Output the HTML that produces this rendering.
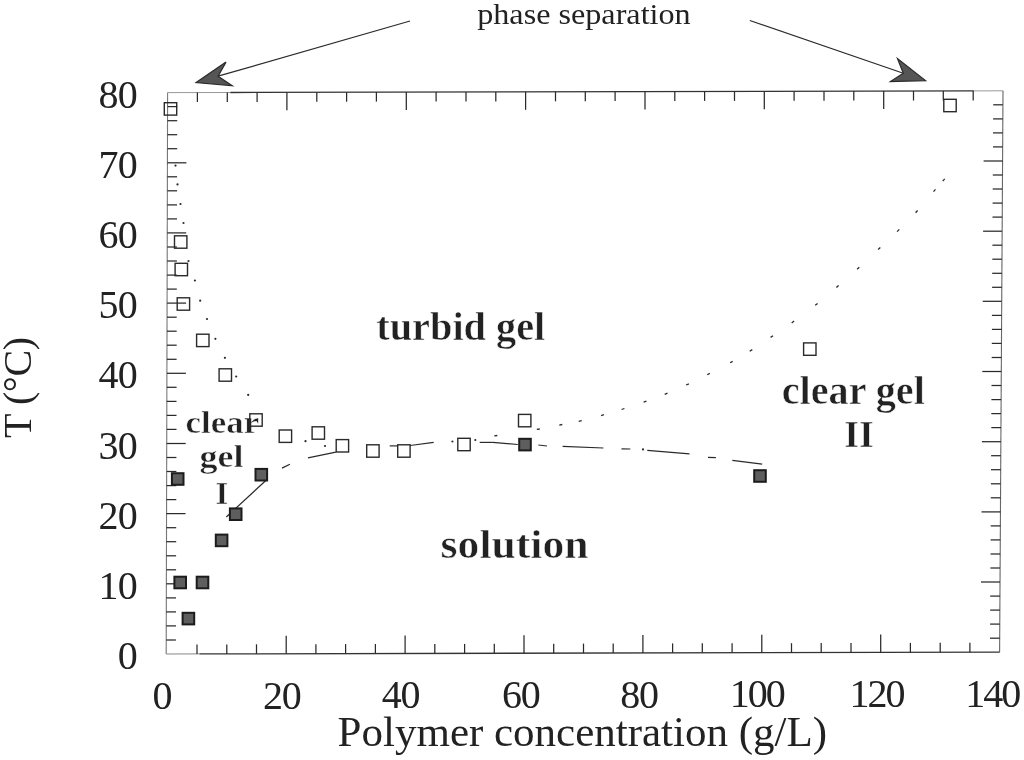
<!DOCTYPE html>
<html lang="en"><head><meta charset="utf-8"><title>Phase diagram</title>
<style>html,body{margin:0;padding:0;background:#fff}body{width:1024px;height:760px;overflow:hidden}svg{display:block}text{font-family:"Liberation Serif",serif;fill:#222}.b{font-weight:bold;stroke:#fff;stroke-width:.5px;fill:#222}</style></head><body>
<svg width="1024" height="760" viewBox="0 0 1024 760">
<rect width="1024" height="760" fill="#fff"/>
<g stroke="#2a2a2a" stroke-width="1.25" fill="none" stroke-linecap="butt">
<path d="M167.6,92.6 L166.2,654.0" stroke="#777" stroke-width="1.1"/>
<path d="M1003.0,90.8 L999.6,652.2" stroke="#666" stroke-width="1.1"/>
<path d="M167.6,92.6 L230.3,92.5" stroke="#999" stroke-width="1"/>
<path d="M230.3,92.5 L973.8,90.9" stroke="#333" stroke-width="1.3"/>
<path d="M973.8,90.9 L1003.0,90.8" stroke="#999" stroke-width="1"/>
<path d="M166.2,654.0 L199.5,653.9" stroke="#888" stroke-width="1"/>
<path d="M199.5,653.9 L999.6,652.2" stroke="#333" stroke-width="1.3"/>
<path d="M197.4,92.5 v9.5"/>
<path d="M197.0,653.9 v-9.5"/>
<path d="M227.3,92.5 v9.5"/>
<path d="M226.8,653.9 v-9.5"/>
<path d="M257.1,92.4 v9.5"/>
<path d="M256.5,653.8 v-9.5"/>
<path d="M286.9,92.3 v18"/>
<path d="M286.2,653.7 v-18"/>
<path d="M316.8,92.3 v9.5"/>
<path d="M315.9,653.7 v-9.5"/>
<path d="M346.6,92.2 v9.5"/>
<path d="M345.6,653.6 v-9.5"/>
<path d="M376.4,92.1 v9.5"/>
<path d="M375.4,653.5 v-9.5"/>
<path d="M406.3,92.1 v18"/>
<path d="M405.1,653.5 v-18"/>
<path d="M436.1,92.0 v9.5"/>
<path d="M434.8,653.4 v-9.5"/>
<path d="M466.0,92.0 v9.5"/>
<path d="M464.6,653.4 v-9.5"/>
<path d="M495.8,91.9 v9.5"/>
<path d="M494.3,653.3 v-9.5"/>
<path d="M525.6,91.8 v18"/>
<path d="M524.0,653.2 v-18"/>
<path d="M555.5,91.8 v9.5"/>
<path d="M553.7,653.2 v-9.5"/>
<path d="M585.3,91.7 v9.5"/>
<path d="M583.5,653.1 v-9.5"/>
<path d="M615.1,91.6 v9.5"/>
<path d="M613.2,653.0 v-9.5"/>
<path d="M645.0,91.6 v18"/>
<path d="M642.9,653.0 v-18"/>
<path d="M674.8,91.5 v9.5"/>
<path d="M672.6,652.9 v-9.5"/>
<path d="M704.6,91.4 v9.5"/>
<path d="M702.3,652.8 v-9.5"/>
<path d="M734.5,91.4 v9.5"/>
<path d="M732.1,652.8 v-9.5"/>
<path d="M764.3,91.3 v18"/>
<path d="M761.8,652.7 v-18"/>
<path d="M794.1,91.2 v9.5"/>
<path d="M791.5,652.7 v-9.5"/>
<path d="M824.0,91.2 v9.5"/>
<path d="M821.2,652.6 v-9.5"/>
<path d="M853.8,91.1 v9.5"/>
<path d="M851.0,652.5 v-9.5"/>
<path d="M883.7,91.1 v18"/>
<path d="M880.7,652.5 v-18"/>
<path d="M913.5,91.0 v9.5"/>
<path d="M910.4,652.4 v-9.5"/>
<path d="M943.3,90.9 v9.5"/>
<path d="M940.2,652.3 v-9.5"/>
<path d="M973.2,90.9 v9.5"/>
<path d="M969.9,652.3 v-9.5"/>
<path d="M167.6,106.6 h9.7"/>
<path d="M1002.9,104.8 h-9.7"/>
<path d="M167.5,120.7 h9.7"/>
<path d="M1002.8,118.9 h-9.7"/>
<path d="M167.5,134.7 h9.7"/>
<path d="M1002.7,132.9 h-9.7"/>
<path d="M167.5,148.7 h9.7"/>
<path d="M1002.7,146.9 h-9.7"/>
<path d="M167.4,162.8 h19"/>
<path d="M1002.6,161.0 h-19"/>
<path d="M167.4,176.8 h9.7"/>
<path d="M1002.5,175.0 h-9.7"/>
<path d="M167.4,190.8 h9.7"/>
<path d="M1002.4,189.0 h-9.7"/>
<path d="M167.3,204.9 h9.7"/>
<path d="M1002.3,203.1 h-9.7"/>
<path d="M167.3,218.9 h9.7"/>
<path d="M1002.2,217.1 h-9.7"/>
<path d="M167.2,232.9 h19"/>
<path d="M1002.1,231.2 h-19"/>
<path d="M167.2,247.0 h9.7"/>
<path d="M1002.1,245.2 h-9.7"/>
<path d="M167.2,261.0 h9.7"/>
<path d="M1002.0,259.2 h-9.7"/>
<path d="M167.1,275.1 h9.7"/>
<path d="M1001.9,273.3 h-9.7"/>
<path d="M167.1,289.1 h9.7"/>
<path d="M1001.8,287.3 h-9.7"/>
<path d="M167.1,303.1 h19"/>
<path d="M1001.7,301.3 h-19"/>
<path d="M167.0,317.2 h9.7"/>
<path d="M1001.6,315.4 h-9.7"/>
<path d="M167.0,331.2 h9.7"/>
<path d="M1001.6,329.4 h-9.7"/>
<path d="M167.0,345.2 h9.7"/>
<path d="M1001.5,343.4 h-9.7"/>
<path d="M166.9,359.3 h9.7"/>
<path d="M1001.4,357.5 h-9.7"/>
<path d="M166.9,373.3 h19"/>
<path d="M1001.3,371.5 h-19"/>
<path d="M166.9,387.3 h9.7"/>
<path d="M1001.2,385.5 h-9.7"/>
<path d="M166.8,401.4 h9.7"/>
<path d="M1001.1,399.6 h-9.7"/>
<path d="M166.8,415.4 h9.7"/>
<path d="M1001.0,413.6 h-9.7"/>
<path d="M166.8,429.4 h9.7"/>
<path d="M1001.0,427.6 h-9.7"/>
<path d="M166.7,443.5 h19"/>
<path d="M1000.9,441.7 h-19"/>
<path d="M166.7,457.5 h9.7"/>
<path d="M1000.8,455.7 h-9.7"/>
<path d="M166.7,471.5 h9.7"/>
<path d="M1000.7,469.7 h-9.7"/>
<path d="M166.6,485.6 h9.7"/>
<path d="M1000.6,483.8 h-9.7"/>
<path d="M166.6,499.6 h9.7"/>
<path d="M1000.5,497.8 h-9.7"/>
<path d="M166.5,513.6 h19"/>
<path d="M1000.5,511.9 h-19"/>
<path d="M166.5,527.7 h9.7"/>
<path d="M1000.4,525.9 h-9.7"/>
<path d="M166.5,541.7 h9.7"/>
<path d="M1000.3,539.9 h-9.7"/>
<path d="M166.4,555.8 h9.7"/>
<path d="M1000.2,554.0 h-9.7"/>
<path d="M166.4,569.8 h9.7"/>
<path d="M1000.1,568.0 h-9.7"/>
<path d="M166.4,583.8 h19"/>
<path d="M1000.0,582.0 h-19"/>
<path d="M166.3,597.9 h9.7"/>
<path d="M999.9,596.1 h-9.7"/>
<path d="M166.3,611.9 h9.7"/>
<path d="M999.9,610.1 h-9.7"/>
<path d="M166.3,625.9 h9.7"/>
<path d="M999.8,624.1 h-9.7"/>
<path d="M166.2,640.0 h9.7"/>
<path d="M999.7,638.2 h-9.7"/>
</g>
<text x="136.8" y="108.0" font-size="40" letter-spacing="-0.9" text-anchor="end">80</text>
<text x="136.8" y="178.1" font-size="40" letter-spacing="-0.9" text-anchor="end">70</text>
<text x="136.8" y="248.2" font-size="40" letter-spacing="-0.9" text-anchor="end">60</text>
<text x="136.8" y="318.3" font-size="40" letter-spacing="-0.9" text-anchor="end">50</text>
<text x="136.8" y="388.4" font-size="40" letter-spacing="-0.9" text-anchor="end">40</text>
<text x="136.8" y="458.5" font-size="40" letter-spacing="-0.9" text-anchor="end">30</text>
<text x="136.8" y="528.6" font-size="40" letter-spacing="-0.9" text-anchor="end">20</text>
<text x="136.8" y="598.7" font-size="40" letter-spacing="-0.9" text-anchor="end">10</text>
<text x="136.8" y="668.8" font-size="40" letter-spacing="-0.9" text-anchor="end">0</text>
<text x="162" y="708.9" font-size="40" letter-spacing="-1.2" text-anchor="middle">0</text>
<text x="281.8" y="708.6" font-size="40" letter-spacing="-1.2" text-anchor="middle">20</text>
<text x="400.6" y="708.2" font-size="40" letter-spacing="-1.2" text-anchor="middle">40</text>
<text x="520.7" y="707.9" font-size="40" letter-spacing="-1.2" text-anchor="middle">60</text>
<text x="639" y="707.5" font-size="40" letter-spacing="-1.2" text-anchor="middle">80</text>
<text x="756.7" y="707.2" font-size="40" letter-spacing="-2.0" text-anchor="middle">100</text>
<text x="876.6" y="706.8" font-size="40" letter-spacing="-2.0" text-anchor="middle">120</text>
<text x="992.3" y="706.5" font-size="40" letter-spacing="-2.0" text-anchor="middle">140</text>
<text id="xt" x="337.6" y="746.4" font-size="42" textLength="489.5" lengthAdjust="spacingAndGlyphs">Polymer concentration (g/L)</text>
<text id="yt" transform="translate(30.6,438) rotate(-90)" font-size="40" letter-spacing="-0.4">T (°C)</text>
<text id="ps" x="477.2" y="24" font-size="29" textLength="213.5" lengthAdjust="spacingAndGlyphs">phase separation</text>
<text id="tg" class="b" x="376.3" y="339.5" font-size="39" textLength="169" lengthAdjust="spacingAndGlyphs">turbid gel</text>
<text id="so" class="b" x="440.6" y="557.9" font-size="39" textLength="148" lengthAdjust="spacingAndGlyphs">solution</text>
<text id="cg2" class="b" x="781.8" y="404.4" font-size="39" textLength="143" lengthAdjust="spacingAndGlyphs">clear gel</text>
<text id="ii" class="b" x="844.2" y="447.3" font-size="38">II</text>
<text id="c1" class="b" x="185.6" y="433" font-size="32" textLength="73.5" lengthAdjust="spacingAndGlyphs">clear</text>
<text id="g1" class="b" x="199.5" y="467.3" font-size="32" textLength="44" lengthAdjust="spacingAndGlyphs">gel</text>
<text id="i1" class="b" x="215.5" y="504" font-size="32.5">I</text>
<g stroke="#2a2a2a" stroke-width="1.2" fill="#555" stroke-linejoin="miter">
<path d="M410,21 L218.1,76.2" fill="none"/>
<path d="M196.1,82.6 L226,62.1 L218.1,76.2 L232.2,85.8 Z"/>
<path d="M749.8,20.5 L903.3,73.2" fill="none"/>
<path d="M925.6,80.6 L897.5,58.6 L903.3,73.2 L890.4,81.5 Z"/>
</g>
<g fill="#2a2a2a">
<circle cx="175.5" cy="165.6" r="1.1"/>
<circle cx="177.5" cy="184.4" r="1.1"/>
<circle cx="180.5" cy="204" r="1.1"/>
<circle cx="183.5" cy="223" r="1.1"/>
<circle cx="188.5" cy="261" r="1.1"/>
<circle cx="194.9" cy="280.5" r="1.1"/>
<circle cx="200.2" cy="300.7" r="1.1"/>
<circle cx="207" cy="319" r="1.1"/>
<circle cx="215.4" cy="338.8" r="1.1"/>
<circle cx="224.9" cy="357.8" r="1.1"/>
<circle cx="236.2" cy="376.5" r="1.1"/>
<circle cx="248.2" cy="394.9" r="1.1"/>
<circle cx="305.5" cy="441.2" r="1.1"/>
<circle cx="325" cy="446" r="1.1"/>
<circle cx="452.4" cy="441.5" r="1.1"/>
<circle cx="475.3" cy="440" r="1.1"/>
<circle cx="643" cy="449.4" r="1.1"/>
</g>
<g stroke="#2a2a2a" stroke-width="1.3" stroke-linecap="butt">
<path d="M494.3,435.9 L497.3,435.5"/>
<path d="M536.8,429.4 L539.8,429.0"/>
<path d="M559.3,425.1 L562.3,424.5"/>
<path d="M578.7,421.3 L581.7,420.7"/>
<path d="M601.1,415.5 L603.9,414.7"/>
<path d="M621.6,409.5 L624.4,408.5"/>
<path d="M643.6,402.2 L646.4,401.2"/>
<path d="M664.7,394.4 L667.5,393.2"/>
<path d="M686.1,385.0 L688.9,383.8"/>
<path d="M707.2,374.8 L709.8,373.4"/>
<path d="M730.1,362.8 L732.7,361.4"/>
<path d="M749.7,351.2 L752.3,349.6"/>
<path d="M770.6,337.4 L773.0,335.8"/>
<path d="M791.7,322.9 L794.1,321.1"/>
<path d="M815.2,305.3 L817.6,303.5"/>
<path d="M836.4,287.5 L838.6,285.5"/>
<path d="M857.1,269.2 L859.3,267.2"/>
<path d="M878.1,249.4 L880.3,247.4"/>
<path d="M897.1,231.6 L899.3,229.4"/>
<path d="M915.6,212.7 L917.6,210.5"/>
<path d="M933.5,191.6 L935.5,189.4"/>
<path d="M942.7,181.1 L944.7,178.9"/>
</g>
<g stroke="#2a2a2a" stroke-width="1.2" fill="none">
<path d="M266.4,480 L226.3,517"/>
<path d="M282,468.1 L289.9,464.2"/>
<path d="M308,457.8 L335.8,452.1"/>
<path d="M389.7,445.9 L397.5,445.9"/>
<path d="M410.2,445.5 L433.7,442.4"/>
<path d="M479.7,442.4 L492.9,442.4"/>
<path d="M492.9,442.4 L517.8,444.5"/>
<path d="M538.3,445 L547,446"/>
<path d="M562.6,446.3 L603.4,448"/>
<path d="M621.5,448.8 L630.3,449"/>
<path d="M647.3,450.3 L689.5,453.8"/>
<path d="M708,457.3 L715.9,457.6"/>
<path d="M732.3,460.3 L762.2,464.1"/>
</g>
<g stroke="#2a2a2a" stroke-width="1.4" fill="none">
<rect x="164.3" y="102.7" width="12.4" height="12.4"/>
<rect x="174.5" y="235.8" width="12.4" height="12.4"/>
<rect x="175.1" y="263.3" width="12.4" height="12.4"/>
<rect x="177.2" y="297.8" width="12.4" height="12.4"/>
<rect x="196.6" y="334.2" width="12.4" height="12.4"/>
<rect x="219.1" y="368.8" width="12.4" height="12.4"/>
<rect x="249.8" y="413.8" width="12.4" height="12.4"/>
<rect x="279.2" y="430.0" width="12.4" height="12.4"/>
<rect x="312.1" y="426.8" width="12.4" height="12.4"/>
<rect x="336.2" y="439.6" width="12.4" height="12.4"/>
<rect x="366.7" y="444.8" width="12.4" height="12.4"/>
<rect x="397.7" y="444.8" width="12.4" height="12.4"/>
<rect x="457.8" y="438.3" width="12.4" height="12.4"/>
<rect x="518.5" y="414.4" width="12.4" height="12.4"/>
<rect x="803.6" y="342.9" width="12.4" height="12.4"/>
<rect x="943.8" y="99.3" width="12.4" height="12.4"/>
</g>
<g stroke="#1c1c1c" stroke-width="2" fill="#5e5e5e">
<rect x="171.9" y="473.2" width="11.6" height="11.6"/>
<rect x="255.5" y="468.9" width="11.6" height="11.6"/>
<rect x="229.9" y="508.4" width="11.6" height="11.6"/>
<rect x="215.8" y="534.6" width="11.6" height="11.6"/>
<rect x="174.4" y="576.7" width="11.6" height="11.6"/>
<rect x="196.7" y="576.7" width="11.6" height="11.6"/>
<rect x="182.6" y="612.8" width="11.6" height="11.6"/>
<rect x="519.2" y="438.8" width="11.6" height="11.6"/>
<rect x="754.2" y="470.2" width="11.6" height="11.6"/>
</g>
</svg></body></html>
